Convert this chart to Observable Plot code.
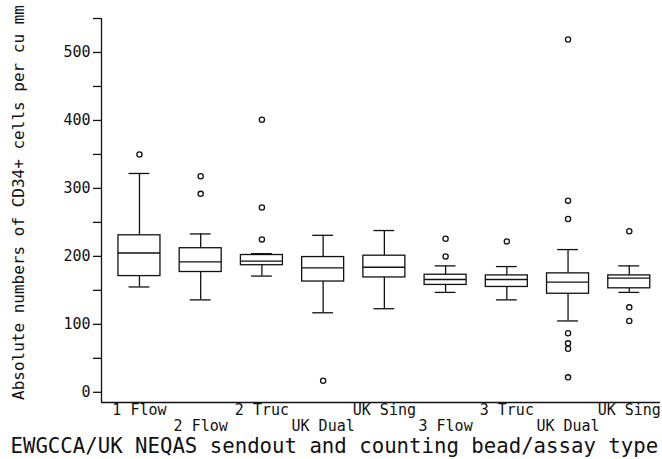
<!DOCTYPE html>
<html>
<head>
<meta charset="utf-8">
<script src="https://cdn.jsdelivr.net/npm/d3@7"></script>
<script src="https://cdn.jsdelivr.net/npm/@observablehq/plot@0.6"></script>
<style>
  html, body { margin: 0; padding: 0; background: white; }
</style>
</head>
<body>
<div id="chart"></div>
<script>
// Categories (bead/assay type per sendout)
const labels = ["1 Flow", "2 Flow", "2 Truc", "UK Dual", "UK Sing", "3 Flow", "3 Truc", "UK Dual", "UK Sing"];
// Box summary statistics (absolute CD34+ cells per cu mm)
const lowWhisker  = [155, 136, 171, 117, 123, 147, 136, 105, 147];
const q1          = [171, 177, 187, 163, 169, 158, 155, 145, 153];
const median      = [205, 192, 193, 183, 184, 166, 166, 162, 168];
const q3          = [231, 212, 202, 199, 201, 173, 172, 175, 172];
const highWhisker = [322, 233, 204, 231, 238, 186, 185, 210, 186];
// Outliers: group index (1-based) and value
const outlierGroup = [1, 2, 2, 3, 3, 3, 4, 6, 6, 7, 8, 8, 8, 8, 8, 8, 8, 9, 9, 9];
const outlierValue = [350, 318, 292, 401, 272, 225, 17, 226, 200, 222, 519, 282, 255, 87, 72, 64, 22, 237, 125, 105];
// Axis ticks
const majorTicks = [0, 100, 200, 300, 400, 500];
const minorTicks = [50, 150, 250, 350, 450, 550];
const yTitle = "Absolute numbers of CD34+ cells per cu mm";
const xTitle = "EWGCCA/UK NEQAS sendout and counting bead/assay type";

const xDomain = [0.38, 9.51];
const yDomain = [-15, 550];
const boxHalf = 0.343;
const capHalf = 0.17;

const boxes = labels.map((l, k) => ({
  i: k + 1, label: l, lo: lowWhisker[k], q1: q1[k], med: median[k], q3: q3[k], hi: highWhisker[k]
}));
const outliers = outlierGroup.map((g, k) => ({i: g, v: outlierValue[k]}));
const oddIdx = boxes.filter(d => d.i % 2 === 1).map(d => d.i);
const evenIdx = boxes.filter(d => d.i % 2 === 0).map(d => d.i);

const ink = "#111";
const sw = 1.3;

const chart = Plot.plot({
  width: 662,
  height: 459,
  marginLeft: 101,
  marginRight: 2,
  marginTop: 18,
  marginBottom: 57,
  x: {domain: xDomain, axis: null},
  y: {domain: yDomain, axis: null},
  style: {fontFamily: "'DejaVu Sans Mono', monospace", background: "white", color: ink},
  marks: [
    Plot.axisY({ticks: majorTicks, tickSize: 8, tickPadding: 3, fontSize: 15, label: null, strokeWidth: sw}),
    Plot.axisY({ticks: minorTicks, tickSize: 8, tickFormat: () => "", label: null, strokeWidth: sw}),
    Plot.ruleX([xDomain[0]], {stroke: ink, strokeWidth: sw}),
    Plot.ruleY([yDomain[0]], {stroke: ink, strokeWidth: sw}),
    Plot.axisX({ticks: oddIdx, tickSize: 0, tickPadding: 2, fontSize: 15, label: null, tickFormat: i => labels[i - 1]}),
    Plot.axisX({ticks: evenIdx, tickSize: 0, tickPadding: 18, fontSize: 15, label: null, tickFormat: i => labels[i - 1]}),
    // whiskers
    Plot.ruleX(boxes, {x: "i", y1: "q3", y2: "hi", stroke: ink, strokeWidth: sw}),
    Plot.ruleX(boxes, {x: "i", y1: "lo", y2: "q1", stroke: ink, strokeWidth: sw}),
    Plot.ruleY(boxes, {y: "hi", x1: d => d.i - capHalf, x2: d => d.i + capHalf, stroke: ink, strokeWidth: sw}),
    Plot.ruleY(boxes, {y: "lo", x1: d => d.i - capHalf, x2: d => d.i + capHalf, stroke: ink, strokeWidth: sw}),
    // boxes
    Plot.rect(boxes, {x1: d => d.i - boxHalf, x2: d => d.i + boxHalf, y1: "q1", y2: "q3", fill: "white", stroke: ink, strokeWidth: sw}),
    Plot.ruleY(boxes, {y: "med", x1: d => d.i - boxHalf, x2: d => d.i + boxHalf, stroke: ink, strokeWidth: sw}),
    // outliers
    Plot.dot(outliers, {x: "i", y: "v", r: 2.6, stroke: ink, strokeWidth: 1.3, fill: "white"}),
    // titles
    Plot.text([yTitle], {frameAnchor: "left", rotate: -90, dx: -83, dy: -8, fontSize: 16, textAnchor: "middle", lineAnchor: "middle", fill: ink}),
    Plot.text([xTitle], {frameAnchor: "bottom-left", dx: -91, dy: 50, fontSize: 20.7, textAnchor: "start", lineAnchor: "bottom", fill: ink})
  ]
});
document.getElementById("chart").appendChild(chart);
</script>
</body>
</html>
